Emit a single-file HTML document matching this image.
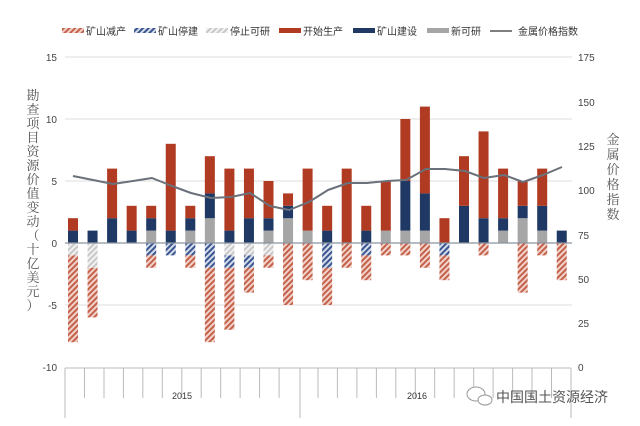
<!DOCTYPE html>
<html><head><meta charset="utf-8"><style>
html,body{margin:0;padding:0;background:#fff;}
svg{display:block;font-family:"Liberation Sans","Noto Sans CJK SC",sans-serif;}
.g{fill:#a6a6a6}.n{fill:#1f3864}.r{fill:#b03a22}.hg{fill:url(#hg)}.hn{fill:url(#hn)}.hr{fill:url(#hr)}
</style></head><body>
<svg width="640" height="426" viewBox="0 0 640 426" xmlns="http://www.w3.org/2000/svg">
<defs>
<pattern id="hr" width="4" height="4" patternUnits="userSpaceOnUse" patternTransform="rotate(45)">
<rect width="4" height="4" fill="#f1d3cb"/><rect width="2" height="4" fill="#c4614a"/></pattern>
<pattern id="hn" width="4" height="4" patternUnits="userSpaceOnUse" patternTransform="rotate(45)">
<rect width="4" height="4" fill="#d5dcea"/><rect width="2" height="4" fill="#3a5590"/></pattern>
<pattern id="hg" width="4" height="4" patternUnits="userSpaceOnUse" patternTransform="rotate(45)">
<rect width="4" height="4" fill="#f2f2f2"/><rect width="2" height="4" fill="#c8c8c8"/></pattern>
</defs>
<g font-size="10" fill="#333">
<rect x="62" y="28" width="22" height="5" class="hr"/><text x="86" y="35">矿山减产</text>
<rect x="134" y="28" width="22" height="5" class="hn"/><text x="158" y="35">矿山停建</text>
<rect x="206" y="28" width="22" height="5" class="hg"/><text x="230" y="35">停止可研</text>
<rect x="279" y="28" width="22" height="5" class="r"/><text x="303" y="35">开始生产</text>
<rect x="353" y="28" width="22" height="5" class="n"/><text x="377" y="35">矿山建设</text>
<rect x="427" y="28" width="22" height="5" class="g"/><text x="451" y="35">新可研</text>
<line x1="490" y1="31" x2="512" y2="31" stroke="#555" stroke-width="1.5"/><text x="518" y="35">金属价格指数</text>
</g>
<g stroke="#dcdcdc" stroke-width="1">
<line x1="65" y1="57" x2="572" y2="57"/>
<line x1="65" y1="119" x2="572" y2="119"/>
<line x1="65" y1="181" x2="572" y2="181"/>
<line x1="65" y1="305" x2="572" y2="305"/>
</g>
<g font-size="10" fill="#444" text-anchor="end">
<text x="57" y="61">15</text><text x="57" y="123">10</text><text x="57" y="185">5</text>
<text x="57" y="247">0</text><text x="57" y="309">-5</text><text x="57" y="371">-10</text>
</g>
<g font-size="10" fill="#444">
<text x="578" y="61">175</text><text x="578" y="106">150</text><text x="578" y="150">125</text>
<text x="578" y="194">100</text><text x="578" y="239">75</text><text x="578" y="283">50</text>
<text x="578" y="327">25</text><text x="578" y="371">0</text>
</g>
<g font-family="Liberation Serif,'Noto Serif CJK SC',serif" font-size="13" fill="#555" text-anchor="middle">
<text x="33" y="100">勘</text><text x="33" y="114">查</text><text x="33" y="128">项</text><text x="33" y="142">目</text><text x="33" y="156">资</text><text x="33" y="170">源</text><text x="33" y="184">价</text><text x="33" y="198">值</text><text x="33" y="212">变</text><text x="33" y="226">动</text><text x="33" y="240">（</text><text x="33" y="254">十</text><text x="33" y="268">亿</text><text x="33" y="282">美</text><text x="33" y="296">元</text><text x="33" y="310">）</text>
<text x="613" y="144">金</text><text x="613" y="159">属</text><text x="613" y="174">价</text><text x="613" y="189">格</text><text x="613" y="204">指</text><text x="613" y="219">数</text>
</g>
<g>
<g transform="translate(68,0)"><rect class="n" y="230.6" width="10" height="12.4"/><rect class="r" y="218.2" width="10" height="12.4"/><rect class="hg" y="243" width="10" height="12.4"/><rect class="hr" y="255.4" width="10" height="86.8"/></g>
<g transform="translate(87.55,0)"><rect class="n" y="230.6" width="10" height="12.4"/><rect class="hg" y="243" width="10" height="24.8"/><rect class="hr" y="267.8" width="10" height="49.6"/></g>
<g transform="translate(107.1,0)"><rect class="n" y="218.2" width="10" height="24.8"/><rect class="r" y="168.6" width="10" height="49.6"/></g>
<g transform="translate(126.65,0)"><rect class="n" y="230.6" width="10" height="12.4"/><rect class="r" y="205.8" width="10" height="24.8"/></g>
<g transform="translate(146.2,0)"><rect class="g" y="230.6" width="10" height="12.4"/><rect class="n" y="218.2" width="10" height="12.4"/><rect class="r" y="205.8" width="10" height="12.4"/><rect class="hn" y="243" width="10" height="12.4"/><rect class="hr" y="255.4" width="10" height="12.4"/></g>
<g transform="translate(165.75,0)"><rect class="n" y="230.6" width="10" height="12.4"/><rect class="r" y="143.8" width="10" height="86.8"/><rect class="hn" y="243" width="10" height="12.4"/></g>
<g transform="translate(185.3,0)"><rect class="g" y="230.6" width="10" height="12.4"/><rect class="n" y="218.2" width="10" height="12.4"/><rect class="r" y="205.8" width="10" height="12.4"/><rect class="hn" y="243" width="10" height="12.4"/><rect class="hr" y="255.4" width="10" height="12.4"/></g>
<g transform="translate(204.85,0)"><rect class="g" y="218.2" width="10" height="24.8"/><rect class="n" y="193.4" width="10" height="24.8"/><rect class="r" y="156.2" width="10" height="37.2"/><rect class="hn" y="243" width="10" height="24.8"/><rect class="hr" y="267.8" width="10" height="74.4"/></g>
<g transform="translate(224.4,0)"><rect class="n" y="230.6" width="10" height="12.4"/><rect class="r" y="168.6" width="10" height="62"/><rect class="hg" y="243" width="10" height="12.4"/><rect class="hn" y="255.4" width="10" height="12.4"/><rect class="hr" y="267.8" width="10" height="62"/></g>
<g transform="translate(243.95,0)"><rect class="n" y="218.2" width="10" height="24.8"/><rect class="r" y="168.6" width="10" height="49.6"/><rect class="hg" y="243" width="10" height="12.4"/><rect class="hn" y="255.4" width="10" height="12.4"/><rect class="hr" y="267.8" width="10" height="24.8"/></g>
<g transform="translate(263.5,0)"><rect class="g" y="230.6" width="10" height="12.4"/><rect class="n" y="218.2" width="10" height="12.4"/><rect class="r" y="181" width="10" height="37.2"/><rect class="hg" y="243" width="10" height="12.4"/><rect class="hr" y="255.4" width="10" height="12.4"/></g>
<g transform="translate(283.05,0)"><rect class="g" y="218.2" width="10" height="24.8"/><rect class="n" y="205.8" width="10" height="12.4"/><rect class="r" y="193.4" width="10" height="12.4"/><rect class="hr" y="243" width="10" height="62"/></g>
<g transform="translate(302.6,0)"><rect class="g" y="230.6" width="10" height="12.4"/><rect class="r" y="168.6" width="10" height="62"/><rect class="hr" y="243" width="10" height="37.2"/></g>
<g transform="translate(322.15,0)"><rect class="n" y="230.6" width="10" height="12.4"/><rect class="r" y="205.8" width="10" height="24.8"/><rect class="hn" y="243" width="10" height="24.8"/><rect class="hr" y="267.8" width="10" height="37.2"/></g>
<g transform="translate(341.7,0)"><rect class="r" y="168.6" width="10" height="74.4"/><rect class="hr" y="243" width="10" height="24.8"/></g>
<g transform="translate(361.25,0)"><rect class="n" y="230.6" width="10" height="12.4"/><rect class="r" y="205.8" width="10" height="24.8"/><rect class="hn" y="243" width="10" height="12.4"/><rect class="hr" y="255.4" width="10" height="24.8"/></g>
<g transform="translate(380.8,0)"><rect class="g" y="230.6" width="10" height="12.4"/><rect class="r" y="181" width="10" height="49.6"/><rect class="hr" y="243" width="10" height="12.4"/></g>
<g transform="translate(400.35,0)"><rect class="g" y="230.6" width="10" height="12.4"/><rect class="n" y="181" width="10" height="49.6"/><rect class="r" y="119" width="10" height="62"/><rect class="hr" y="243" width="10" height="12.4"/></g>
<g transform="translate(419.9,0)"><rect class="g" y="230.6" width="10" height="12.4"/><rect class="n" y="193.4" width="10" height="37.2"/><rect class="r" y="106.6" width="10" height="86.8"/><rect class="hr" y="243" width="10" height="24.8"/></g>
<g transform="translate(439.45,0)"><rect class="r" y="218.2" width="10" height="24.8"/><rect class="hn" y="243" width="10" height="12.4"/><rect class="hr" y="255.4" width="10" height="24.8"/></g>
<g transform="translate(459,0)"><rect class="n" y="205.8" width="10" height="37.2"/><rect class="r" y="156.2" width="10" height="49.6"/></g>
<g transform="translate(478.55,0)"><rect class="n" y="218.2" width="10" height="24.8"/><rect class="r" y="131.4" width="10" height="86.8"/><rect class="hr" y="243" width="10" height="12.4"/></g>
<g transform="translate(498.1,0)"><rect class="g" y="230.6" width="10" height="12.4"/><rect class="n" y="218.2" width="10" height="12.4"/><rect class="r" y="168.6" width="10" height="49.6"/></g>
<g transform="translate(517.65,0)"><rect class="g" y="218.2" width="10" height="24.8"/><rect class="n" y="205.8" width="10" height="12.4"/><rect class="r" y="181" width="10" height="24.8"/><rect class="hr" y="243" width="10" height="49.6"/></g>
<g transform="translate(537.2,0)"><rect class="g" y="230.6" width="10" height="12.4"/><rect class="n" y="205.8" width="10" height="24.8"/><rect class="r" y="168.6" width="10" height="37.2"/><rect class="hr" y="243" width="10" height="12.4"/></g>
<g transform="translate(556.75,0)"><rect class="n" y="230.6" width="10" height="12.4"/><rect class="hr" y="243" width="10" height="37.2"/></g>
</g>
<line x1="65" y1="243" x2="572" y2="243" stroke="#8a94a0" stroke-width="1.2"/>
<polyline fill="none" stroke="#6b717a" stroke-width="2" stroke-linejoin="round"
points="73,176 93,180 113,184 133,181 152,178 172,186 191,193 211,198 231,197 250,193 270,206 289,210 309,202 328,190 348,183 367,183 387,181 406,180 426,169 445,169 465,171 484,178 504,175 523,182 543,175 562,167"/>
<g stroke="#bbb" stroke-width="1">
<line x1="65" y1="368" x2="571" y2="368"/>
<line x1="65" y1="368" x2="65" y2="418"/>
<line x1="300" y1="368" x2="300" y2="418"/>
<line x1="571" y1="368" x2="571" y2="418"/>
<path d="M84.5 368V398M104 368V398M123.4 368V398M142.8 368V398M162.3 368V398M181.8 368V398M201.2 368V398M220.7 368V398M240.1 368V398M259.6 368V398M279.1 368V398M318 368V398M337.4 368V398M356.9 368V398M376.4 368V398M395.8 368V398M415.3 368V398M434.7 368V398M454.2 368V398M473.7 368V398M493.1 368V398M512.6 368V398M532 368V398M551.5 368V398"/>
</g>
<g font-size="9" fill="#333"><text x="172" y="399">2015</text><text x="407" y="399">2016</text></g>
<g fill="#fff" stroke="#999" stroke-width="1"><ellipse cx="476" cy="394" rx="9" ry="7"/><ellipse cx="485" cy="400" rx="7" ry="5"/></g>
<text x="496" y="402" font-size="14" fill="#555" font-family="'Noto Sans CJK SC',sans-serif">中国国土资源经济</text>
</svg>
</body></html>
